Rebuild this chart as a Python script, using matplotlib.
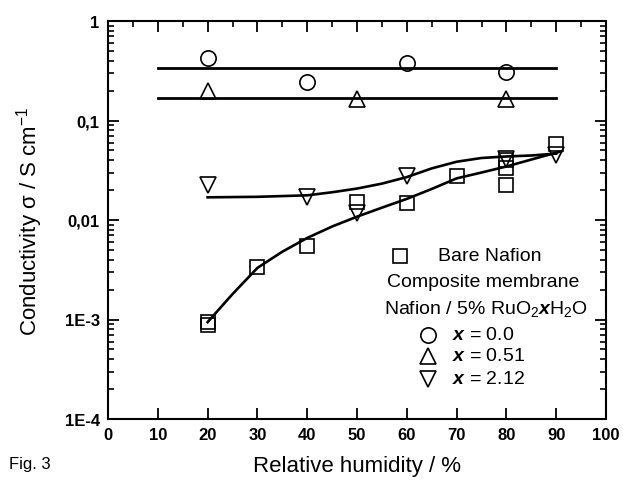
import numpy as np
import matplotlib
matplotlib.use("Agg")
import matplotlib.pyplot as plt
from matplotlib.lines import Line2D
from matplotlib.ticker import MultipleLocator, LogLocator, FixedFormatter, FixedLocator

plt.rcParams['font.family'] = ['Liberation Sans', 'DejaVu Sans']
plt.rcParams['mathtext.fontset'] = 'custom'
plt.rcParams['mathtext.rm'] = 'Liberation Sans'
plt.rcParams['mathtext.it'] = 'Liberation Sans:italic:bold'
plt.rcParams['mathtext.bf'] = 'Liberation Sans:bold'

# data
rh_bare = [20, 20, 30, 40, 50, 60, 70, 80, 80, 80, 90]
sig_bare = [0.00095, 0.00088, 0.0034, 0.0055, 0.0151, 0.0148, 0.0276, 0.040, 0.033, 0.0225, 0.058]

rh_x00 = [20, 40, 60, 80]
sig_x00 = [0.42, 0.244, 0.375, 0.305]

rh_x051 = [20, 50, 80]
sig_x051 = [0.20, 0.165, 0.165]

rh_x212 = [20, 40, 50, 60, 80, 90]
sig_x212 = [0.0225, 0.0170, 0.0117, 0.0277, 0.041, 0.045]

# fitted curves
fit_rh = [20, 22, 25, 30, 35, 40, 45, 50, 55, 60, 65, 70, 75, 80, 85, 90, 91]
fit_bare = [0.00094, 0.00122, 0.0018, 0.0033, 0.0048, 0.0066, 0.0086, 0.0108, 0.0133,
            0.0163, 0.0205, 0.0262, 0.0300, 0.0345, 0.0405, 0.0475, 0.049]
fit_x212_rh = [20, 30, 40, 45, 50, 55, 60, 65, 70, 75, 80, 85, 90]
fit_x212 = [0.0169, 0.0171, 0.0177, 0.0190, 0.0207, 0.0232, 0.0270, 0.0330, 0.0385,
            0.0420, 0.0435, 0.0445, 0.0465]
line_rh = [10, 90]
line_x00 = [0.335, 0.335]
line_x051 = [0.170, 0.170]

fig = plt.figure(figsize=(6.23, 4.81), dpi=100)
ax = fig.add_axes([108/623, 1-420/481, (606-108)/623, (420-22)/481])

ms = 11
mew = 1.2
ax.plot(line_rh, line_x00, '-', color='black', lw=2)
ax.plot(line_rh, line_x051, '-', color='black', lw=2)
ax.plot(fit_rh, fit_bare, '-', color='black', lw=1.9)
ax.plot(fit_x212_rh, fit_x212, '-', color='black', lw=1.9)

ax.plot(rh_bare, sig_bare, 's', mfc='none', mec='black', ms=ms-1, mew=mew, ls='none')
ax.plot(rh_x00, sig_x00, 'o', mfc='none', mec='black', ms=ms, mew=mew, ls='none')
ax.plot(rh_x051, sig_x051, '^', mfc='none', mec='black', ms=ms+1, mew=mew, ls='none')
ax.plot(rh_x212, sig_x212, 'v', mfc='none', mec='black', ms=ms+1, mew=mew, ls='none')

ax.set_yscale('log')
ax.set_xlim(0, 100)
ax.set_ylim(1e-4, 1)
ax.xaxis.set_major_locator(MultipleLocator(10))
ax.xaxis.set_minor_locator(MultipleLocator(5))
ax.yaxis.set_major_locator(FixedLocator([1e-4, 1e-3, 1e-2, 1e-1, 1]))
ax.yaxis.set_major_formatter(FixedFormatter(['1E-4', '1E-3', '0,01', '0,1', '1']))
ax.yaxis.set_minor_locator(LogLocator(base=10, subs=np.arange(2, 10)))
ax.yaxis.set_minor_formatter(FixedFormatter([]))

ax.tick_params(which='major', direction='in', length=8, width=1.3,
               top=True, right=True, labelsize=12, pad=6)
ax.tick_params(which='minor', direction='in', length=4, width=1.2,
               top=True, right=True, bottom=False)
for lab in ax.get_xticklabels() + ax.get_yticklabels():
    lab.set_fontweight('bold')
for sp in ax.spines.values():
    sp.set_linewidth(1.5)

ax.set_xlabel('Relative humidity / %', fontsize=16, labelpad=9)
ax.set_ylabel('Conductivity σ / S cm$^{-1}$', fontsize=16, labelpad=14)

fig.text(9/623, 1-465/481, 'Fig. 3', fontsize=12, va='center', ha='left')

# legend drawn by hand
def px(x, y):
    return x/623, 1-y/481

def key(x, y, m, size):
    fx, fy = px(x, y)
    fig.add_artist(Line2D([fx], [fy], transform=fig.transFigure, marker=m, ms=size,
                          mfc='none', mec='black', mew=mew, ls='none'))

key(400, 257, 's', ms-1)
fig.text(*px(438, 257), 'Bare Nafion', fontsize=14, va='center', ha='left')
fig.text(*px(387, 283), 'Composite membrane', fontsize=14, va='center', ha='left')
fig.text(*px(384, 309), r'Nafion / 5% RuO$_{\rm 2}$$x$H$_{\rm 2}$O', fontsize=14, va='center', ha='left')
key(428, 336, 'o', ms)
fig.text(*px(452, 336), r'$x$ = 0.0', fontsize=14, va='center', ha='left')
key(428, 357, '^', ms+1)
fig.text(*px(452, 357), r'$x$ = 0.51', fontsize=14, va='center', ha='left')
key(428, 380, 'v', ms+1)
fig.text(*px(452, 380), r'$x$ = 2.12', fontsize=14, va='center', ha='left')

fig.savefig('out.png', dpi=100)
